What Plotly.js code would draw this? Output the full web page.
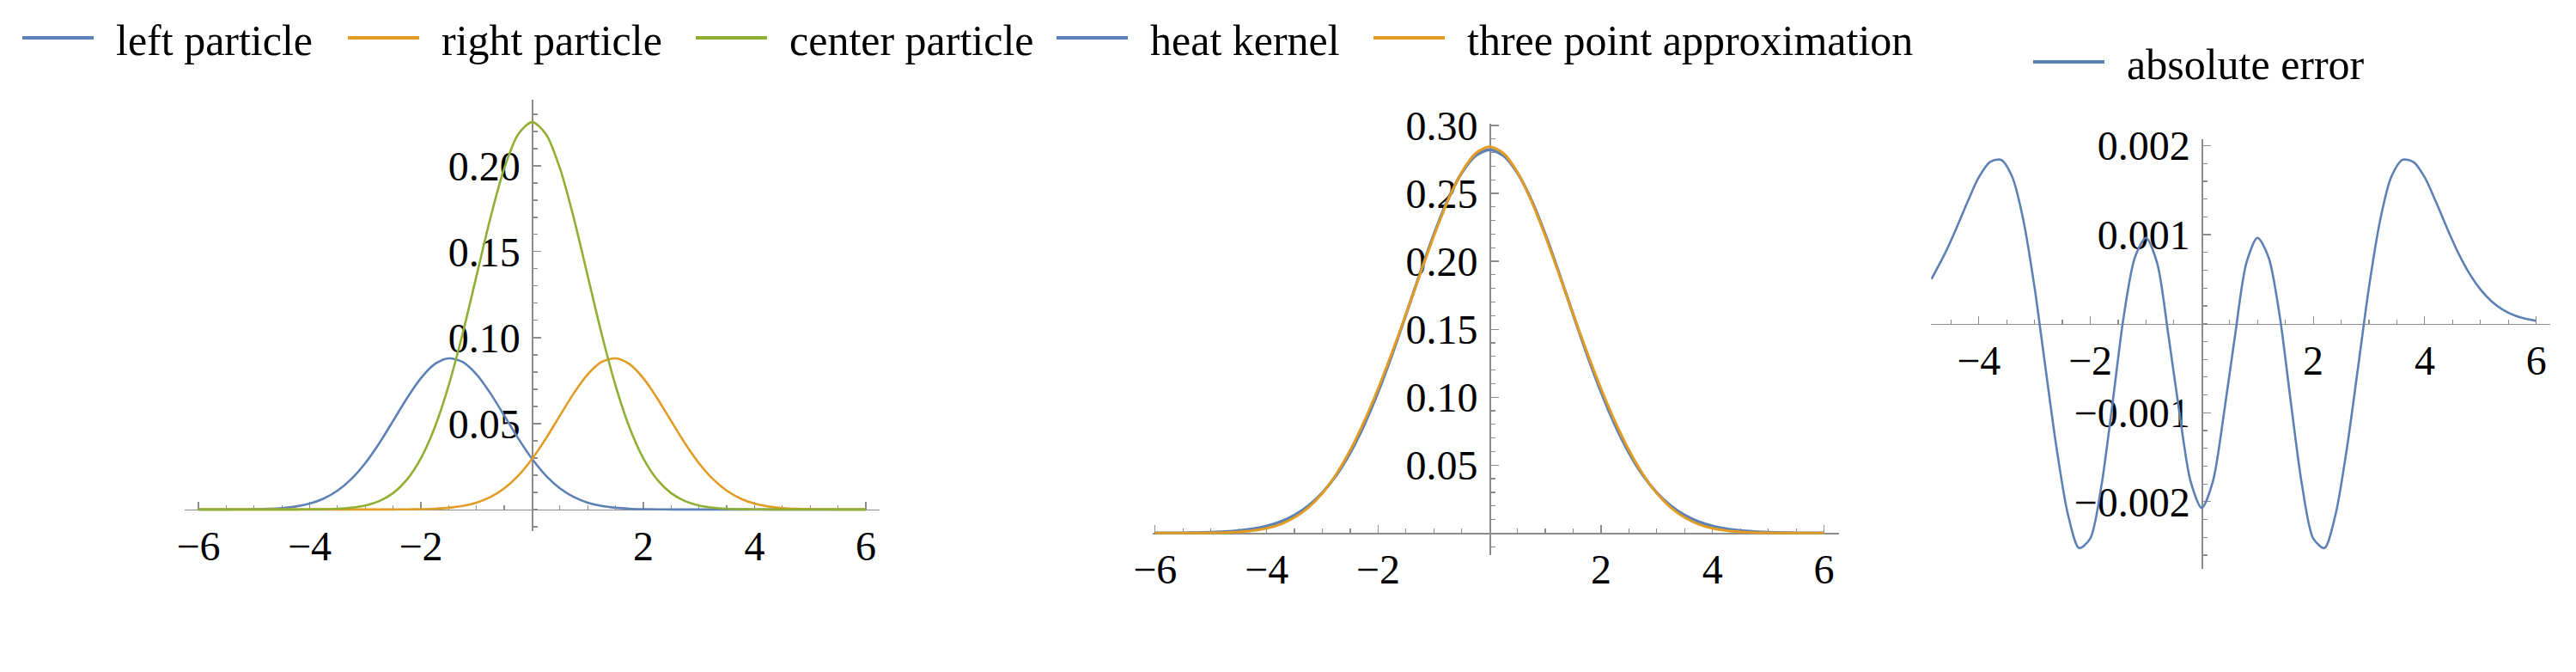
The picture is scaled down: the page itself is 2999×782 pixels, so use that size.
<!DOCTYPE html>
<html>
<head>
<meta charset="utf-8">
<script src="https://cdn.plot.ly/plotly-3.0.1.min.js"></script>
<style>
  html, body { margin: 0; padding: 0; background: #ffffff; }
  #chart { width: 2999px; height: 782px; }
</style>
</head>
<body>
<div id="chart"></div>
<script>
// ---------- data ----------
const xGrid = [-6, -5.75, -5.5, -5.25, -5, -4.75, -4.5, -4.25, -4, -3.75, -3.5, -3.25, -3, -2.75, -2.5, -2.25, -2, -1.75, -1.5, -1.25, -1, -0.75, -0.5, -0.25, 0,
  0.25, 0.5, 0.75, 1, 1.25, 1.5, 1.75, 2, 2.25, 2.5, 2.75, 3, 3.25, 3.5, 3.75, 4, 4.25, 4.5, 4.75, 5, 5.25, 5.5, 5.75, 6];

const leftParticle = [0.0000027, 0.0000083, 0.0000238, 0.0000639, 0.000161, 0.000381, 0.000846, 0.001765, 0.003455, 0.006349, 0.010951, 0.017732, 0.026950, 0.038448, 0.051489, 0.064726, 0.076377, 0.084600, 0.087963, 0.085851, 0.078653, 0.067640, 0.054603, 0.041376, 0.029430,
  0.019651, 0.012316, 0.007246, 0.004002, 0.002074, 0.001009, 0.000461, 0.000198, 0.0000796, 0.0000301, 0.0000107, 0.0000035, 0.0000011, 0.0000003, 0.0000001, 0, 0, 0, 0, 0, 0, 0, 0, 0];

const rightParticle = [0, 0, 0, 0, 0, 0, 0, 0, 0, 0.0000001, 0.0000003, 0.0000011, 0.0000035, 0.0000107, 0.0000301, 0.0000796, 0.000198, 0.000461, 0.001009, 0.002074, 0.004002, 0.007246, 0.012316, 0.019651, 0.029430,
  0.041376, 0.054603, 0.067640, 0.078653, 0.085851, 0.087963, 0.084600, 0.076377, 0.064726, 0.051489, 0.038448, 0.026950, 0.017732, 0.010951, 0.006349, 0.003455, 0.001765, 0.000846, 0.000381, 0.000161, 0.0000639, 0.0000238, 0.0000083, 0.0000027];

const centerParticle = [0, 0, 0, 0.0000002, 0.0000007, 0.0000025, 0.000008, 0.0000242, 0.0000685, 0.000183, 0.000457, 0.001074, 0.002368, 0.004903, 0.009527, 0.017380, 0.029760, 0.047832, 0.072166, 0.102204, 0.135870, 0.169550, 0.198608, 0.218381, 0.225400,
  0.218381, 0.198608, 0.169550, 0.135870, 0.102204, 0.072166, 0.047832, 0.029760, 0.017380, 0.009527, 0.004903, 0.002368, 0.001074, 0.000457, 0.000183, 0.0000685, 0.0000242, 0.000008, 0.0000025, 0.0000007, 0.0000002, 0, 0, 0];

const heatKernel = [0.0000348, 0.0000726, 0.000147, 0.000287, 0.000545, 0.001002, 0.001786, 0.003085, 0.005167, 0.008386, 0.013194, 0.020118, 0.029733, 0.042590, 0.059130, 0.079569, 0.103777, 0.131186, 0.160733, 0.190875, 0.219695, 0.245088, 0.265004, 0.277722, 0.282095,
  0.277722, 0.265004, 0.245088, 0.219695, 0.190875, 0.160733, 0.131186, 0.103777, 0.079569, 0.059130, 0.042590, 0.029733, 0.020118, 0.013194, 0.008386, 0.005167, 0.003085, 0.001786, 0.001002, 0.000545, 0.000287, 0.000147, 0.0000726, 0.0000348];

const threePointApprox = [0.0000027, 0.0000083, 0.0000238, 0.0000641, 0.000162, 0.000384, 0.000854, 0.001789, 0.003524, 0.006532, 0.011408, 0.018807, 0.029322, 0.043362, 0.061046, 0.082186, 0.106335, 0.132893, 0.161138, 0.190129, 0.218525, 0.244436, 0.265527, 0.279408, 0.284260,
  0.279408, 0.265527, 0.244436, 0.218525, 0.190129, 0.161138, 0.132893, 0.106335, 0.082186, 0.061046, 0.043362, 0.029322, 0.018807, 0.011408, 0.006532, 0.003524, 0.001789, 0.000854, 0.000384, 0.000162, 0.0000641, 0.0000238, 0.0000083, 0.0000027];

const errX = [-4.85, -4.6, -4.4, -4.2, -4.0, -3.8, -3.6, -3.4, -3.2, -3.0, -2.8, -2.6, -2.4, -2.2, -2.0, -1.8, -1.6, -1.4, -1.2, -1.0, -0.8, -0.6, -0.4, -0.2, 0,
  0.2, 0.4, 0.6, 0.8, 1.0, 1.2, 1.4, 1.6, 1.8, 2.0, 2.2, 2.4, 2.6, 2.8, 3.0, 3.2, 3.4, 3.6, 3.8, 4.0, 4.2, 4.4, 4.6, 4.8, 5.0, 5.2, 5.4, 5.6, 5.8, 6.0];
const absoluteError = [0.000500, 0.000797, 0.001074, 0.001370, 0.001643, 0.001815, 0.001840, 0.001649, 0.001163, 0.000411, -0.000510, -0.001415, -0.002143, -0.002520, -0.002412, -0.001819, -0.000892, 0.000080, 0.000742, 0.000964, 0.000680, -0.000120, -0.001000, -0.001771, -0.002070,
  -0.001771, -0.001000, -0.000120, 0.000680, 0.000964, 0.000742, 0.000080, -0.000892, -0.001819, -0.002412, -0.002520, -0.002143, -0.001415, -0.000510, 0.000411, 0.001163, 0.001649, 0.001840, 0.001815, 0.001643, 0.001370, 0.001074, 0.000797, 0.000565, 0.000384, 0.000250, 0.000157, 0.0000955, 0.0000561, 0.0000321];

// tick values and labels
const ticks1X = [-6, -4, -2, 2, 4, 6];
const ticks1XText = ['\u22126', '\u22124', '\u22122', '2', '4', '6'];
const ticks1Y = [0.05, 0.10, 0.15, 0.20];
const ticks1YText = ['0.05', '0.10', '0.15', '0.20'];
const ticks2Y = [0.05, 0.10, 0.15, 0.20, 0.25, 0.30];
const ticks2YText = ['0.05', '0.10', '0.15', '0.20', '0.25', '0.30'];
const ticks3X = [-4, -2, 2, 4, 6];
const ticks3XText = ['\u22124', '\u22122', '2', '4', '6'];
const ticks3Y = [-0.002, -0.001, 0.001, 0.002];
const ticks3YText = ['\u22120.002', '\u22120.001', '0.001', '0.002'];

// ---------- layout helpers ----------
const W = 2999, H = 782;
const fx = p => p / W;
const fy = p => 1 - p / H;

const BLUE = '#5E81B5', ORANGE = '#E19C24', GREEN = '#8FB032';
const FONT = 'Liberation Serif, Times New Roman, serif';
const AXIS_GRAY = '#8c8c8c';

// panel frames in pixels: x-range, pixel left/right, y-range, pixel top/bottom
const panels = [
  { xr: [-6.25, 6.24], xl: 214.8, xrp: 1023.5, yr: [-0.0125, 0.2384], yt: 116.1, yb: 617.9 },
  { xr: [-6.04, 6.27], xl: 1342.2, xrp: 2141.1, yr: [-0.0159, 0.3011], yt: 144.2, yb: 645.5 },
  { xr: [-4.855, 6.245], xl: 2248.2, xrp: 2968.6, yr: [-0.00275, 0.00207], yt: 162.2, yb: 661.6 }
];

function axes(i, xt, xtt, yt, ytt, yMinor) {
  const p = panels[i];
  const xd = [fx(p.xl), fx(p.xrp)];
  const yd = [fy(p.yb), fy(p.yt)];
  const xPos = xd[0] + (0 - p.xr[0]) / (p.xr[1] - p.xr[0]) * (xd[1] - xd[0]);
  const yPos = yd[0] + (0 - p.yr[0]) / (p.yr[1] - p.yr[0]) * (yd[1] - yd[0]);
  const common = {
    showgrid: false, zeroline: false, showline: true, linecolor: AXIS_GRAY, linewidth: 1.5,
    ticks: 'inside', ticklen: 9, tickwidth: 1.2, tickcolor: AXIS_GRAY,
    tickfont: { family: FONT, size: 48, color: '#000' },
    layer: 'below traces', fixedrange: true, anchor: 'free', tickmode: 'array'
  };
  const n = i === 0 ? '' : String(i + 1);
  return {
    ['xaxis' + n]: Object.assign({}, common, {
      domain: xd, range: p.xr, position: yPos, tickvals: xt, ticktext: xtt, side: 'bottom',
      minor: { ticks: 'inside', ticklen: 5, tickcolor: AXIS_GRAY, dtick: 0.5, tick0: 0, showgrid: false }
    }),
    ['yaxis' + n]: Object.assign({}, common, {
      domain: yd, range: p.yr, position: xPos, tickvals: yt, ticktext: ytt, side: 'left',
      ticklabelstandoff: 4,
      minor: { ticks: 'inside', ticklen: 5, tickcolor: AXIS_GRAY, dtick: yMinor, tick0: 0, showgrid: false }
    })
  };
}

const lineStyle = (c) => ({ color: c, width: 2.6, shape: 'spline', smoothing: 0.8 });

const traces = [
  { x: xGrid, y: leftParticle, name: 'left particle', mode: 'lines', line: lineStyle(BLUE), xaxis: 'x', yaxis: 'y', legend: 'legend' },
  { x: xGrid, y: rightParticle, name: 'right particle', mode: 'lines', line: lineStyle(ORANGE), xaxis: 'x', yaxis: 'y', legend: 'legend2' },
  { x: xGrid, y: centerParticle, name: 'center particle', mode: 'lines', line: lineStyle(GREEN), xaxis: 'x', yaxis: 'y', legend: 'legend3' },
  { x: xGrid, y: heatKernel, name: 'heat kernel', mode: 'lines', line: Object.assign(lineStyle(BLUE), { width: 3.4 }), xaxis: 'x2', yaxis: 'y2', legend: 'legend4' },
  { x: xGrid, y: threePointApprox, name: 'three point approximation', mode: 'lines', line: Object.assign(lineStyle(ORANGE), { width: 3 }), xaxis: 'x2', yaxis: 'y2', legend: 'legend5' },
  { x: errX, y: absoluteError, name: 'absolute error', mode: 'lines', line: lineStyle(BLUE), xaxis: 'x3', yaxis: 'y3', legend: 'legend6' }
];

// legend swatch geometry (px): swatch start positions and rows
const SWATCH_LEN = 83;
const legendBase = {
  orientation: 'h', xanchor: 'left', yanchor: 'middle', bgcolor: 'rgba(0,0,0,0)',
  font: { family: FONT, size: 50, color: '#000' }, itemwidth: 104, borderwidth: 0,
  traceorder: 'normal', itemclick: false, itemdoubleclick: false
};
const leg = (startPx, rowPx) => Object.assign({}, legendBase, { x: fx(startPx - 5), y: fy(rowPx) });

const layout = Object.assign({
  width: W, height: H,
  margin: { l: 0, r: 0, t: 0, b: 0, pad: 0 },
  paper_bgcolor: '#ffffff', plot_bgcolor: 'rgba(0,0,0,0)',
  showlegend: true,
  legend: leg(26, 44),
  legend2: leg(405, 44),
  legend3: leg(810, 44),
  legend4: leg(1230, 44),
  legend5: leg(1599, 44),
  legend6: leg(2367, 72)
},
  axes(0, ticks1X, ticks1XText, ticks1Y, ticks1YText, 0.01),
  axes(1, ticks1X, ticks1XText, ticks2Y, ticks2YText, 0.01),
  axes(2, ticks3X, ticks3XText, ticks3Y, ticks3YText, 0.0002)
);

Plotly.newPlot('chart', traces, layout, { displayModeBar: false, staticPlot: true }).then(gd => {
  // Mathematica-style legend swatches: fixed-length, slightly heavier lines
  gd.querySelectorAll('.legendlines path').forEach(p => {
    p.setAttribute('d', 'M5,0h' + SWATCH_LEN);
    p.style.strokeWidth = '4px';
  });
});
</script>
</body>
</html>
